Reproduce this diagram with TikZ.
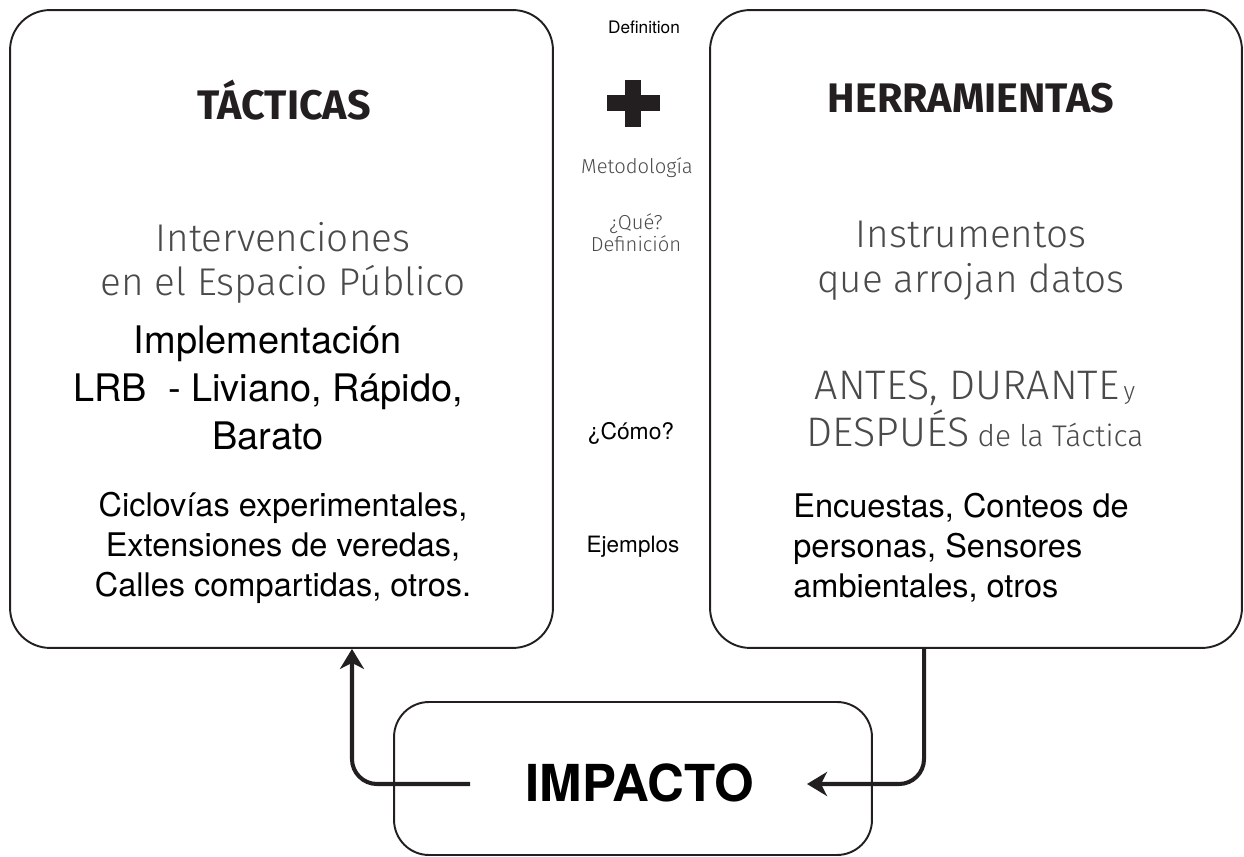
\documentclass[tikz,border=0pt]{standalone}
\usepackage{fontspec}
\setmainfont{TeX Gyre Heros}
\newfontfamily\din{Fira Sans}
\IfFontExistsTF{Fira Sans Light}{\newfontfamily\dinlight{Fira Sans Light}}{\newfontfamily\dinlight{Fira Sans}}
\usetikzlibrary{arrows.meta,positioning}
\definecolor{ink}{HTML}{231F20}
\definecolor{greytext}{HTML}{4A4A4A}
\tikzstyle{panel}=[
	draw=ink,
	line width=1.1pt,
	rounded corners=0.8cm,
	inner sep=0pt
]
\tikzstyle{title}=[
	font=\din\bfseries\fontsize{23.5}{28}\selectfont,
	text=ink,
	inner sep=0pt
]
\tikzstyle{lighttext}=[
	font=\dinlight\fontsize{22}{25.5}\selectfont,
	text=greytext,
	align=center,
	inner sep=0pt
]
\tikzstyle{bodytext}=[
	font=\fontsize{18.5}{22.7}\selectfont,
	align=center,
	inner sep=0pt
]
\tikzstyle{sidenote}=[
	font=\fontsize{12.8}{15}\selectfont,
	inner sep=0pt
]
\tikzstyle{sidegrey}=[
	font=\dinlight\fontsize{11.5}{12.5}\selectfont,
	text=greytext,
	align=center,
	inner sep=0pt
]
\tikzstyle{flow}=[
	-{Stealth[length=0.4cm,width=0.48cm,inset=0.12cm]},
	line width=2.3pt,
	draw=ink,
	rounded corners=0.5cm
]

\begin{document}
\begin{tikzpicture}[x=0.02cm,y=-0.02cm]
\useasboundingbox (0,0) rectangle (1244,857);
\node [panel, minimum width=10.86cm, minimum height=12.76cm] (tacticas) at (281.5,329) {};
\node [panel, minimum width=10.64cm, minimum height=12.76cm] (herramientas) at (976,329) {};
\node [panel, minimum width=9.56cm, minimum height=3.06cm, rounded corners=0.7cm] (impacto) at (633,778.5) {};

\node [title] (tacTitle) at (284,100) {TÁCTICAS};
\node [lighttext] (tacDesc) at (283,263) {Intervenciones\\en el Espacio Público};
\node [bodytext, font=\fontsize{21.6}{27.5}\selectfont] (tacLrb) at (268,388) {Implementación\\LRB\ \ - Liviano, Rápido,\\Barato};
\node [bodytext] (tacEj) at (283,548) {Ciclovías experimentales,\\Extensiones de veredas,\\Calles compartidas, otros.};

\node [title] (herTitle) at (971,98) {HERRAMIENTAS};
\node [lighttext] (herDesc) at (971,261) {Instrumentos\\que arrojan datos};
\node [lighttext, font=\dinlight\fontsize{23.5}{26.6}\selectfont] (herFases) at (975,409)
	{ANTES, DURANTE{\fontsize{14}{15}\selectfont\,y}\\DESPUÉS{\fontsize{17}{18}\selectfont\ de la Táctica}};
\node [bodytext, align=left, anchor=west] (herEj) at (793,548) {Encuestas, Conteos de\\personas, Sensores\\ambientales, otros};

\node [sidenote, font=\fontsize{9.8}{12}\selectfont] (definition) at (644,27) {Definition};
\fill [ink] (607,95) rectangle (660,111);
\fill [ink] (625,80) rectangle (641,127);
\node [sidegrey] (metodo) at (637,168) {Metodología};
\node [sidegrey] (que) at (636,233) {¿Qué?\\Definición};
\node [sidenote, font=\fontsize{13}{15}\selectfont] (como) at (631,433) {¿Cómo?};
\node [sidenote] (ejemplos) at (633,547) {Ejemplos};

\node [font=\bfseries\fontsize{29}{34}\selectfont, inner sep=0pt] (impText) at (640,783) {IMPACTO};
\coordinate (impL) at (470,784);
\coordinate (impR) at (807,784);
\draw [flow] (impL) -| ([xshift=1.41cm]tacticas.south);
\draw [flow] ([xshift=-1.04cm]herramientas.south) |- (impR);
\end{tikzpicture}
\end{document}
